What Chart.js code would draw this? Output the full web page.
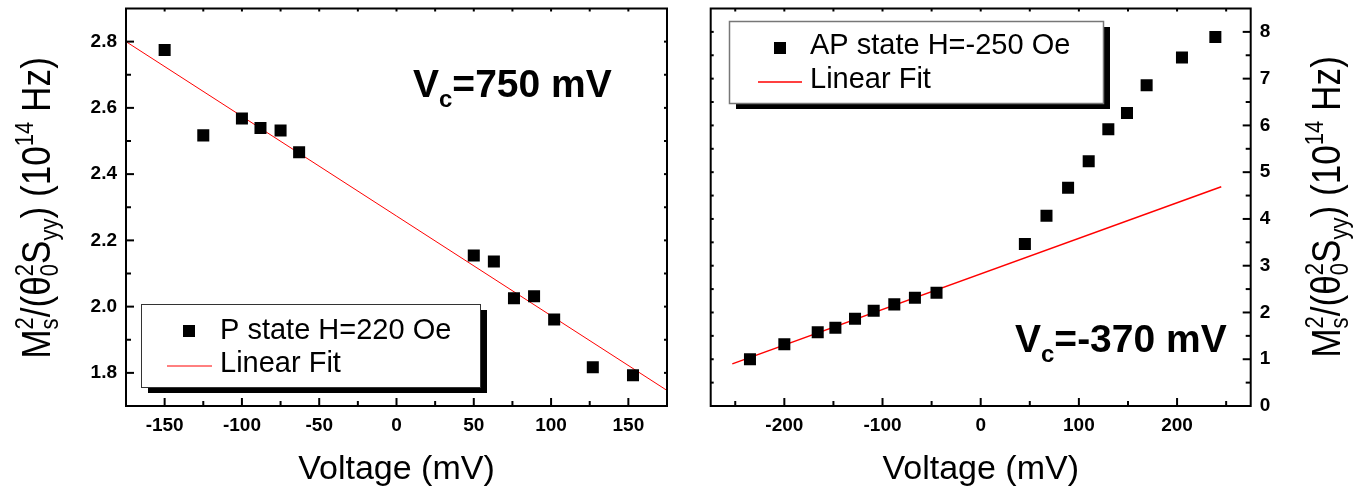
<!DOCTYPE html>
<html><head><meta charset="utf-8">
<script src="https://cdn.jsdelivr.net/npm/chart.js@4.4.1/dist/chart.umd.min.js"></script>
<style>
html,body{margin:0;padding:0;background:#fff;overflow:hidden}
#wrap{position:relative;width:1363px;height:491px;background:#fff}
canvas{position:absolute;top:0}
#cl{left:0}
#cr{left:690px}
</style></head><body>
<div id="wrap"><canvas id="cl" width="690" height="491"></canvas><canvas id="cr" width="673" height="491"></canvas></div>
<script>
// ---------- data ----------
const pLabel = 'P state H=220 Oe';
const pVoltage = [-150, -125, -100, -88, -75, -63, 50, 63, 76, 89, 102, 127, 153];
const pValue   = [2.775, 2.517, 2.568, 2.539, 2.532, 2.466, 2.154, 2.136, 2.025, 2.031, 1.961, 1.817, 1.793];
const pFitVoltage = [-175, 175];
const pFitValue   = [2.800, 1.747];

const apLabel = 'AP state H=-250 Oe';
const apVoltage = [-235, -200, -166, -148, -128, -109, -88, -67, -45, 45, 67, 89, 110, 130, 149, 169, 205, 239];
const apValue   = [1.00, 1.32, 1.575, 1.673, 1.866, 2.037, 2.173, 2.314, 2.421, 3.462, 4.066, 4.665, 5.235, 5.919, 6.267, 6.859, 7.45, 7.89];
const apFitVoltage = [-253, 245];
const apFitValue   = [0.90, 4.69];

const fitLabel = 'Linear Fit';

const leftXTicks = [-150, -100, -50, 0, 50, 100, 150];
const leftXTickLabels = ['-150', '-100', '-50', '0', '50', '100', '150'];
const leftXMinor = [-125, -75, -25, 25, 75, 125];
const leftYTicks = [1.8, 2.0, 2.2, 2.4, 2.6, 2.8];
const leftYTickLabels = ['1.8', '2.0', '2.2', '2.4', '2.6', '2.8'];
const leftYMinor = [1.9, 2.1, 2.3, 2.5, 2.7];

const rightXTicks = [-200, -100, 0, 100, 200];
const rightXTickLabels = ['-200', '-100', '0', '100', '200'];
const rightXMinor = [-250, -150, -50, 50, 150, 250];
const rightYTicks = [0, 1, 2, 3, 4, 5, 6, 7, 8];
const rightYTickLabels = ['0', '1', '2', '3', '4', '5', '6', '7', '8'];
const rightYMinor = [0.5, 1.5, 2.5, 3.5, 4.5, 5.5, 6.5, 7.5];

const xTitle = 'Voltage (mV)';
const leftNote = ['V', 'c', '=750 mV'];
const rightNote = ['V', 'c', '=-370 mV'];

// ---------- helpers ----------
const FONT = '"Liberation Sans", Arial, Helvetica, sans-serif';
const yTitleRuns = [
  {t: 'M'}, {sup: '2', sub: 's'}, {t: '/(\u03B8'}, {sup: '2', sub: '0'}, {t: 'S'}, {sub: 'yy'},
  {t: ')'}, {t: ' (10'}, {sup: '14'}, {t: ' Hz)'}
];

function richWidth(ctx, runs, S, weight, small) {
  let w = 0;
  runs.forEach(r => {
    if (r.t !== undefined) { ctx.font = `${weight} ${S}px ${FONT}`; w += ctx.measureText(r.t).width; }
    else {
      ctx.font = `${weight} ${small}px ${FONT}`;
      let m = 0;
      if (r.sup) m = Math.max(m, ctx.measureText(r.sup).width);
      if (r.sub) m = Math.max(m, ctx.measureText(r.sub).width);
      w += m;
    }
  });
  return w;
}
function drawRich(ctx, runs, S, weight, small, supDy, subDy) {
  let x = 0;
  ctx.textBaseline = 'alphabetic';
  ctx.textAlign = 'left';
  runs.forEach(r => {
    if (r.t !== undefined) {
      ctx.font = `${weight} ${S}px ${FONT}`;
      ctx.fillText(r.t, x, 0);
      x += ctx.measureText(r.t).width;
    } else {
      ctx.font = `${weight} ${small}px ${FONT}`;
      let m = 0;
      if (r.sup) { ctx.fillText(r.sup, x, supDy); m = Math.max(m, ctx.measureText(r.sup).width); }
      if (r.sub) { ctx.fillText(r.sub, x, subDy); m = Math.max(m, ctx.measureText(r.sub).width); }
      x += m;
    }
  });
}

const panelCfg = {
  cl: {
    yMain: 'left',
    xMajor: leftXTicks, xMinor: leftXMinor, yMajor: leftYTicks, yMinor: leftYMinor,
    title: {x: 50, y: 208},
    note: {x: 413, y: 97, parts: leftNote},
    legend: {x: 141, y: 304, w: 339, h: 83, border: '#333', bw: 1,
      marker: {x: 189, y: 331}, t1: {x: 220, y: 331},
      line: {x1: 167, x2: 212, y: 366}, t2: {x: 220, y: 364}, lw: 1}
  },
  cr: {
    yMain: 'right',
    xMajor: rightXTicks, xMinor: rightXMinor, yMajor: rightYTicks, yMinor: rightYMinor,
    title: {x: 650, y: 207},
    note: {x: 325, y: 352, parts: rightNote},
    legend: {x: 39, y: 21, w: 374, h: 82, border: '#777', bw: 1.5,
      marker: {x: 90, y: 48}, t1: {x: 120, y: 46},
      line: {x1: 68, x2: 112, y: 82}, t2: {x: 120, y: 80}, lw: 1.5}
  }
};

const deco = {
  id: 'deco',
  afterDraw(chart) {
    const o = panelCfg[chart.canvas.id];
    const ctx = chart.ctx, a = chart.chartArea, xs = chart.scales.x, ys = chart.scales.y;
    ctx.save();
    ctx.strokeStyle = '#000'; ctx.lineWidth = 2; ctx.lineCap = 'butt';
    const seg = (x1, y1, x2, y2) => { ctx.beginPath(); ctx.moveTo(x1, y1); ctx.lineTo(x2, y2); ctx.stroke(); };
    o.xMajor.forEach(v => { const p = xs.getPixelForValue(v); seg(p, a.bottom, p, a.bottom - 8); seg(p, a.top, p, a.top + 3); });
    o.xMinor.forEach(v => { const p = xs.getPixelForValue(v); seg(p, a.bottom, p, a.bottom - 5); seg(p, a.top, p, a.top + 3); });
    const mainX = o.yMain === 'left' ? a.left : a.right, d = o.yMain === 'left' ? 1 : -1;
    const mirX = o.yMain === 'left' ? a.right : a.left;
    o.yMajor.forEach(v => { const p = ys.getPixelForValue(v); seg(mainX, p, mainX + d * 8, p); seg(mirX, p, mirX - d * 3, p); });
    o.yMinor.forEach(v => { const p = ys.getPixelForValue(v); seg(mainX, p, mainX + d * 5, p); seg(mirX, p, mirX - d * 3, p); });
    ctx.strokeRect(a.left, a.top, a.right - a.left, a.bottom - a.top);

    // rotated y title with sub/superscripts
    ctx.fillStyle = '#000';
    const S = 40, small = 25, sx = 0.88;
    const W = richWidth(ctx, yTitleRuns, S, 'normal', small);
    ctx.save();
    ctx.translate(o.title.x, o.title.y);
    ctx.rotate(-Math.PI / 2);
    ctx.scale(sx, 1);
    ctx.translate(-W / 2, 0);
    drawRich(ctx, yTitleRuns, S, 'normal', small, -S * 0.42, S * 0.2);
    ctx.restore();

    // V_c annotation
    ctx.save();
    ctx.translate(o.note.x, o.note.y);
    drawRich(ctx, [{t: o.note.parts[0]}, {sub: o.note.parts[1]}, {t: o.note.parts[2]}], 39, 'bold', 24, -16, 10);
    ctx.restore();

    // legend
    const L = o.legend;
    ctx.fillStyle = '#000';
    ctx.fillRect(L.x + 7, L.y + 6, L.w, L.h);
    ctx.fillStyle = '#fff';
    ctx.fillRect(L.x, L.y, L.w, L.h);
    ctx.strokeStyle = L.border; ctx.lineWidth = L.bw;
    ctx.strokeRect(L.x + 0.5, L.y + 0.5, L.w, L.h);
    ctx.fillStyle = '#000';
    ctx.fillRect(L.marker.x - 6, L.marker.y - 6, 12, 12);
    ctx.strokeStyle = '#ff0000'; ctx.lineWidth = L.lw;
    seg(L.line.x1, L.line.y, L.line.x2, L.line.y);
    ctx.fillStyle = '#000';
    ctx.font = `normal 29px ${FONT}`;
    ctx.textAlign = 'left'; ctx.textBaseline = 'middle';
    ctx.fillText(chart.data.datasets[0].label, L.t1.x, L.t1.y);
    ctx.fillText(chart.data.datasets[1].label, L.t2.x, L.t2.y);
    ctx.restore();
  }
};

function makeChart(id, xs, ys, fx, fy, label, xr, yr, xt, xtl, yt, ytl, yPos, pad, yWidth, fitW) {
  const tickFont = {family: FONT, size: 19, weight: 'bold'};
  return new Chart(document.getElementById(id), {
    type: 'scatter',
    data: {
      datasets: [
        {label: label, data: xs.map((v, i) => ({x: v, y: ys[i]})), pointStyle: 'rect', pointRadius: 8.5,
         pointHoverRadius: 8.5, backgroundColor: '#000', borderColor: '#000', borderWidth: 0, order: 1},
        {label: fitLabel, type: 'line', data: fx.map((v, i) => ({x: v, y: fy[i]})), borderColor: '#ff0000',
         borderWidth: fitW, pointRadius: 0, showLine: true, fill: false, tension: 0, order: 2}
      ]
    },
    options: {
      responsive: false, animation: false, devicePixelRatio: 1,
      layout: {padding: pad},
      plugins: {legend: {display: false}, tooltip: {enabled: false}},
      scales: {
        x: {
          type: 'linear', position: 'bottom', min: xr[0], max: xr[1],
          afterBuildTicks: s => { s.ticks = xt.map(v => ({value: v})); },
          afterFit: s => { s.height = 85; s.paddingLeft = 0; s.paddingRight = 0; },
          grid: {display: false, drawTicks: false}, border: {display: false},
          ticks: {font: tickFont, color: '#000', padding: 8, maxRotation: 0, autoSkip: false,
                  callback: (v, i) => xtl[i]},
          title: {display: true, text: xTitle, color: '#000', font: {family: FONT, size: 34, weight: 'normal'},
                  padding: {top: 0, bottom: 1}}
        },
        y: {
          type: 'linear', position: yPos, min: yr[0], max: yr[1],
          afterBuildTicks: s => { s.ticks = yt.map(v => ({value: v})); },
          afterFit: s => { s.width = yWidth; s.paddingTop = 0; s.paddingBottom = 0; },
          grid: {display: false, drawTicks: false}, border: {display: false},
          ticks: {font: tickFont, color: '#000', padding: 9, autoSkip: false,
                  callback: (v, i) => ytl[i]}
        }
      }
    },
    plugins: [deco]
  });
}

makeChart('cl', pVoltage, pValue, pFitVoltage, pFitValue, pLabel, [-175, 175], [1.7, 2.9],
  leftXTicks, leftXTickLabels, leftYTicks, leftYTickLabels, 'left',
  {left: 0, right: 23, top: 8, bottom: 0}, 126, 1);
makeChart('cr', apVoltage, apValue, apFitVoltage, apFitValue, apLabel, [-275, 275], [0, 8.5],
  rightXTicks, rightXTickLabels, rightYTicks, rightYTickLabels, 'right',
  {left: 20.7, right: 0, top: 8, bottom: 0}, 112.3, 1.5);
</script></body></html>
